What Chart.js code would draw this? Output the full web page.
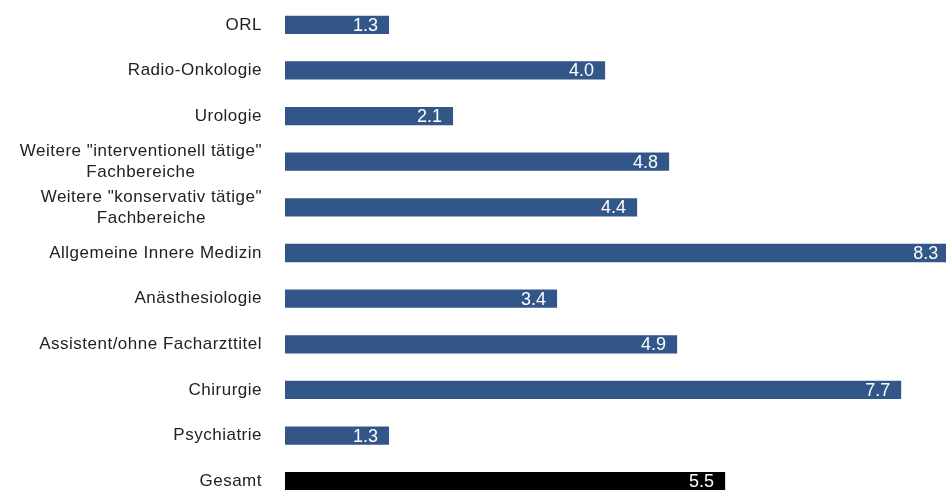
<!DOCTYPE html>
<html lang="de">
<head>
<meta charset="UTF-8">
<title>Balkendiagramm</title>
<script src="https://cdn.jsdelivr.net/npm/chart.js@4.4.0/dist/chart.umd.min.js"></script>
<style>
  html, body { margin: 0; padding: 0; background: #fff; overflow: hidden; }
  #wrap { position: relative; width: 946px; height: 504px; }
</style>
</head>
<body>
<div id="wrap">
  <canvas id="chart"></canvas>
</div>
<script>
// categories (multi-line labels as arrays)
const categories = [
  'ORL',
  'Radio-Onkologie',
  'Urologie',
  ['Weitere "interventionell tätige"', 'Fachbereiche'],
  ['Weitere "konservativ tätige"', 'Fachbereiche'],
  'Allgemeine Innere Medizin',
  'Anästhesiologie',
  'Assistent/ohne Facharzttitel',
  'Chirurgie',
  'Psychiatrie',
  'Gesamt'
];
const values = [1.3, 4.0, 2.1, 4.8, 4.4, 8.3, 3.4, 4.9, 7.7, 1.3, 5.5];
const barColors = ['#325688', '#325688', '#325688', '#325688', '#325688',
                   '#325688', '#325688', '#325688', '#325688', '#325688', '#000000'];

const FONT = '"Liberation Sans", Arial, sans-serif';

// y labels: block right-aligned, lines centered within the block
const yLabelPlugin = {
  id: 'yLabels',
  afterDraw(chart) {
    const ctx = chart.ctx;
    const yScale = chart.scales.y;
    const right = chart.chartArea.left - 23;
    ctx.save();
    ctx.font = '17px ' + FONT;
    ctx.letterSpacing = '0.5px';
    ctx.fillStyle = '#222';
    ctx.textBaseline = 'middle';
    ctx.textAlign = 'center';
    categories.forEach((lab, i) => {
      const lines = Array.isArray(lab) ? lab : [lab];
      const w = Math.max(...lines.map(l => ctx.measureText(l).width));
      const cx = right - w / 2;
      const y = yScale.getPixelForValue(i);
      const lh = 21;
      const y0 = y - (lines.length - 1) * lh / 2;
      lines.forEach((l, j) => ctx.fillText(l, cx, y0 + j * lh));
    });
    ctx.restore();
  }
};

// value labels inside bar end
const valueLabelPlugin = {
  id: 'valueLabels',
  afterDatasetsDraw(chart) {
    const ctx = chart.ctx;
    const meta = chart.getDatasetMeta(0);
    ctx.save();
    ctx.font = '18px ' + FONT;
    ctx.fillStyle = '#ffffff';
    ctx.textAlign = 'right';
    ctx.textBaseline = 'middle';
    meta.data.forEach((bar, i) => {
      ctx.fillText(values[i].toFixed(1), bar.x - 11, bar.y + 1);
    });
    ctx.restore();
  }
};

new Chart(document.getElementById('chart'), {
  type: 'bar',
  data: {
    labels: categories,
    datasets: [{
      data: values,
      backgroundColor: barColors,
      borderWidth: 0,
      barPercentage: 0.8,
      categoryPercentage: 0.5
    }]
  },
  options: {
    indexAxis: 'y',
    responsive: true,
    maintainAspectRatio: false,
    animation: false,
    layout: { padding: { left: 285, top: 2, right: 0, bottom: 0 } },
    plugins: {
      legend: { display: false },
      tooltip: { enabled: false }
    },
    scales: {
      x: {
        min: 0,
        max: 8.26,
        display: false
      },
      y: {
        display: false,
        grid: { display: false }
      }
    }
  },
  plugins: [yLabelPlugin, valueLabelPlugin]
});
</script>
</body>
</html>
